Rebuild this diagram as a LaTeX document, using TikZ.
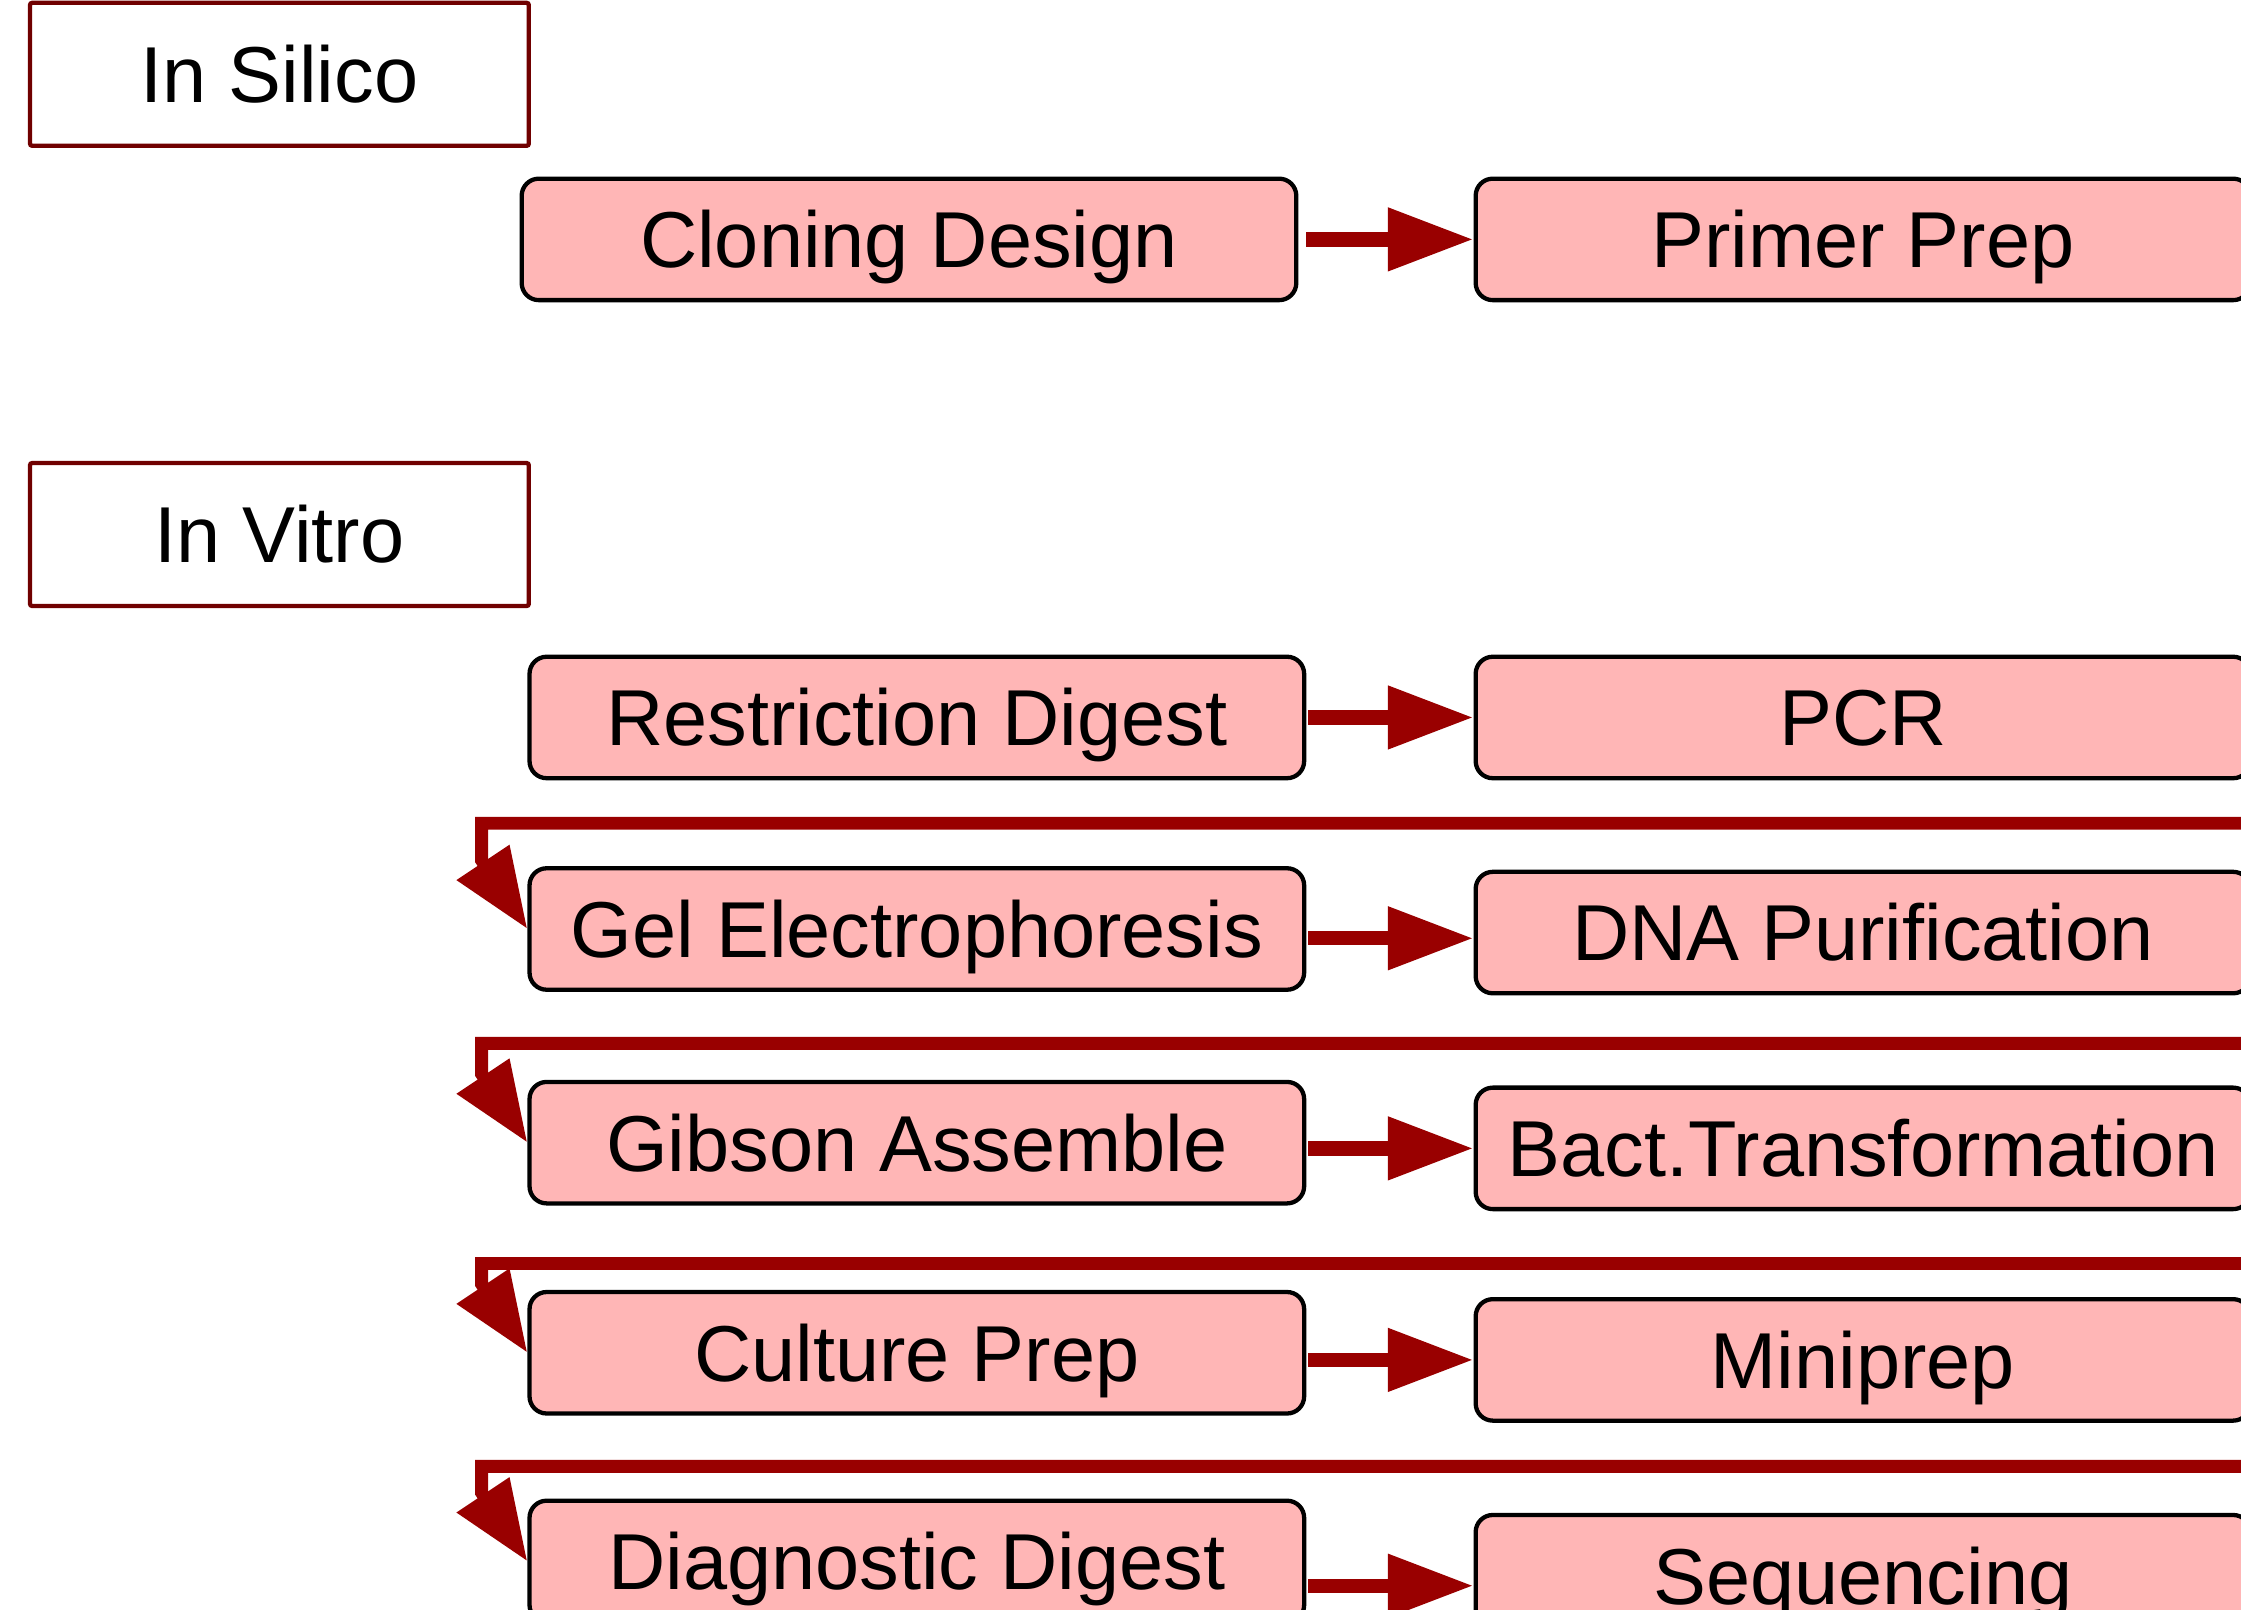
\documentclass[tikz,border=0pt]{standalone}
\usepackage{fontspec}
\setmainfont{Liberation Sans}
\usetikzlibrary{arrows.meta,calc}
\definecolor{pinkc}{RGB}{255,182,182}
\definecolor{arrc}{RGB}{153,0,0}
\definecolor{labc}{RGB}{112,0,0}
\begin{document}
\begin{tikzpicture}[x=1pt,y=1pt,
  txt/.style={font=\fontsize{55.5}{66}\selectfont, text height=39.7pt, text depth=0pt, inner sep=0pt, align=center},
  labbox/.style={txt, draw=labc, line width=3pt, rounded corners=1.5pt, minimum width=349pt, minimum height=100pt},
  pbox/.style={txt, draw=black, line width=3pt, fill=pinkc, rounded corners=12pt, minimum width=542pt, minimum height=85pt},
  arr/.style={draw=arrc, line width=10pt, -{Triangle[length=60pt,width=42pt]}, shorten <=1.5pt},
  ret/.style={draw=arrc, line width=9pt, line join=miter, -{Triangle[length=56pt,width=42pt]}}]
\useasboundingbox (0,0) rectangle (1568,-1126);
\clip (0,0) rectangle (1568,-1126);
% labels
\node[labbox] (silico) at (195.5,-52) {In Silico};
\node[labbox] (vitro) at (195.5,-374) {In Vitro};
% boxes
\node[pbox] (cloning) at (636,-167.5) {Cloning Design};
\node[pbox] (primer) at (1303.5,-167.5) {Primer Prep};
\node[pbox] (restr) at (641.5,-502) {Restriction Digest};
\node[pbox] (pcr) at (1303.5,-502) {PCR};
\node[pbox] (gel) at (641.5,-650) {Gel Electrophoresis};
\node[pbox] (dna) at (1303.5,-652.5) {DNA Purification};
\node[pbox] (gibson) at (641.5,-799.5) {Gibson Assemble};
\node[pbox] (bact) at (1303.5,-803.5) {Bact.Transformation};
\node[pbox] (culture) at (641.5,-946.5) {Culture Prep};
\node[pbox] (mini) at (1303.5,-951.5) {Miniprep};
\node[pbox] (diag) at (641.5,-1092.5) {Diagnostic Digest};
\node[pbox] (seq) at (1303.5,-1102.5) {Sequencing};
% horizontal arrows
\coordinate (a1) at ([xshift=4pt]cloning.east);
\draw[arr] (primer.west -| a1) -- (primer.west);
\draw[arr] (pcr.west -| restr.east) -- (pcr.west);
\coordinate (a3) at ([yshift=-4pt]dna.west);
\draw[arr] (a3 -| gel.east) -- (a3);
\draw[arr] (bact.west -| gibson.east) -- (bact.west);
\draw[arr] (mini.west -| culture.east) -- (mini.west);
\coordinate (a6) at ([yshift=-7pt]seq.west);
\draw[arr] (a6 -| diag.east) -- (a6);
% return connectors
\coordinate (c1) at ($(gel.west)+(-32,48)$);
\coordinate (c2) at ($(gibson.west)+(-32,48)$);
\coordinate (c3) at ($(culture.west)+(-32,48)$);
\coordinate (c4) at ($(diag.west)+(-32,48)$);
\draw[ret] (pcr.east) -- ++(40,0) |- (c1 |- 0,-576) -- (c1) -- (gel.west);
\draw[ret] (dna.east) -- ++(40,0) |- (c2 |- 0,-730) -- (c2) -- (gibson.west);
\draw[ret] (bact.east) -- ++(40,0) |- (c3 |- 0,-884) -- (c3) -- (culture.west);
\draw[ret] (mini.east) -- ++(40,0) |- (c4 |- 0,-1026) -- (c4) -- (diag.west);
\end{tikzpicture}
\end{document}
